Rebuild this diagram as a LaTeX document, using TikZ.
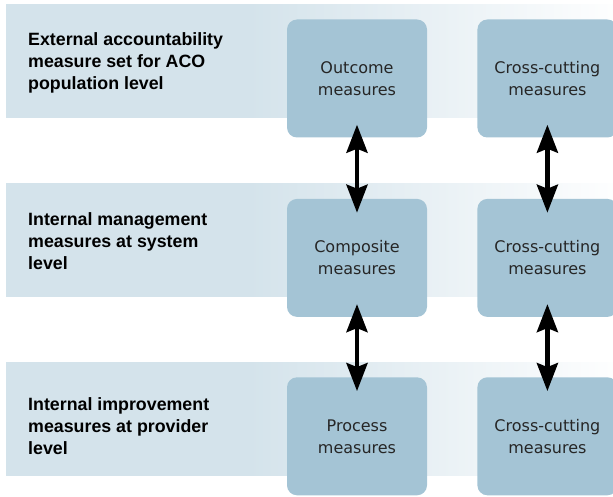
\documentclass[tikz,border=0pt]{standalone}
\usepackage{fontspec}
\setmainfont{Liberation Sans}
\newfontfamily\boxfont{DejaVu Sans}
\usetikzlibrary{positioning,arrows.meta}

\definecolor{bandc}{HTML}{D4E3EB}
\definecolor{boxc}{HTML}{A4C4D5}
\definecolor{txtc}{HTML}{262626}
% band colour held over the left 40 percent, then fading to white
\pgfdeclarehorizontalshading{bandfade}{100bp}{color(0bp)=(bandc); color(25bp)=(bandc); color(45bp)=(bandc); color(75bp)=(white!96!bandc); color(100bp)=(white!96!bandc)}

\begin{document}
\begin{tikzpicture}[x=1pt, y=-1pt]
% picture area in pixels of the reference
\useasboundingbox (0,0) rectangle (613,497);

\tikzstyle{measure} = [fill=boxc, rounded corners=10pt, minimum width=140pt, minimum height=118pt, inner sep=0pt, align=center, text=txtc, font=\boxfont\fontsize{16}{22}\selectfont] % measure box
\tikzstyle{level}   = [anchor=west, align=left, inner sep=0pt, font=\bfseries\fontsize{17.8}{22}\selectfont] % level label
\tikzstyle{dblarrow} = [line width=4.5pt, {Stealth[length=28pt,width=21pt,inset=4pt]}-{Stealth[length=28pt,width=21pt,inset=4pt]}, shorten <=-13pt, shorten >=-14pt] % two-way link

% background bands
\foreach \yc in {61, 240, 419} {
  \shade[shading=bandfade] (6,\yc-56.5) rectangle (613,\yc+56.5);
}

% first column of measures
\node(outc)[measure] at (357,78.5){Outcome\\measures};
\node(comp)[measure, below=61pt of outc]{Composite\\measures};
\node(proc)[measure, below=60pt of comp]{Process\\measures};

% second column of cross-cutting measures
\node(cross1)[measure, right=50pt of outc]{Cross-cutting\\measures};
\node(cross2)[measure, right=50pt of comp]{Cross-cutting\\measures};
\node(cross3)[measure, right=50pt of proc]{Cross-cutting\\measures};

% level labels
\node(lvl1)[level] at (28,63){External accountability\\measure set for ACO\\population level};
\node(lvl2)[level] at (28,241){Internal management\\measures at system\\level};
\node(lvl3)[level] at (28,426){Internal improvement\\measures at provider\\level};

% arrows
\draw[dblarrow](outc.south)--(comp.north);
\draw[dblarrow](comp.south)--(proc.north);
\draw[dblarrow](cross1.south)--(cross2.north);
\draw[dblarrow](cross2.south)--(cross3.north);
\end{tikzpicture}
\end{document}
